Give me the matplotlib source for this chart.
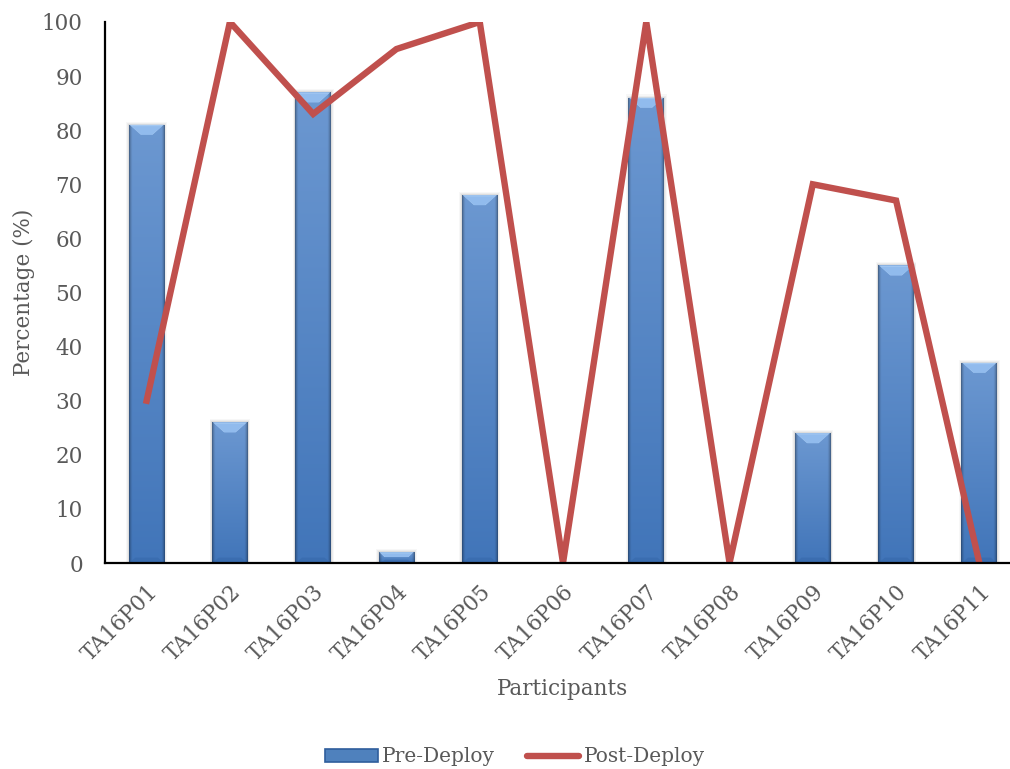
import numpy as np
import matplotlib
matplotlib.use("Agg")
import matplotlib.pyplot as plt
from matplotlib.colors import to_rgb
from matplotlib.patches import Patch, Polygon
from matplotlib.lines import Line2D

participants = ["TA16P01", "TA16P02", "TA16P03", "TA16P04", "TA16P05", "TA16P06",
                "TA16P07", "TA16P08", "TA16P09", "TA16P10", "TA16P11"]
pre_deploy = [81, 26, 87, 2, 68, 0, 86, 0, 24, 55, 37]
post_deploy = [30, 100, 83, 95, 100, 0, 100, 0, 70, 67, 0]
y_ticks = [0, 10, 20, 30, 40, 50, 60, 70, 80, 90, 100]

plt.rcParams["font.family"] = ["DejaVu Serif"]
text_grey = "#595959"
fs = 15.5

fig = plt.figure(figsize=(10.10, 7.69), dpi=100)
ax = fig.add_axes([105 / 1010, 1 - 563 / 769, (1021 - 105) / 1010, (563 - 22) / 769])

x = np.arange(len(participants))
bar_w = 0.43
bars = ax.bar(x, pre_deploy, width=bar_w, color="#4F81BD", zorder=2)

# bar body: lighter at the top, deeper at the base, darkened side edges
top_c = np.array(to_rgb("#6C98D1"))
bot_c = np.array(to_rgb("#4175B9"))
nv, nh = 200, 64
tv = np.linspace(0, 1, nv)[:, None, None]
u = np.linspace(0, 1, nh)
edge = np.minimum(u, 1 - u) / 0.09
edge_fac = 0.62 + 0.38 * np.clip(edge, 0, 1) ** 0.6
body = (top_c * (1 - tv) + bot_c * tv) * edge_fac[None, :, None]
body = np.clip(body, 0, 1)

for rect in bars:
    bx, bw, bh = rect.get_x(), rect.get_width(), rect.get_height()
    if bh <= 0:
        continue
    # soft shadow around the bar
    for k, a in enumerate([0.06, 0.045, 0.03]):
        off = 0.010 * (k + 1)
        ax.add_patch(plt.Rectangle((bx - off, 0), bw + 2 * off, bh + 0.2 * (k + 1),
                                   facecolor="black", alpha=a, edgecolor="none", zorder=1))
    im = ax.imshow(body, aspect="auto", extent=[bx, bx + bw, 0, bh],
                   zorder=3, interpolation="bilinear")
    im.set_clip_path(rect)
    # bevelled top face
    bev_h = min(1.85, bh * 0.45)
    bev_w = 0.145 * bev_h / 1.85
    ax.add_patch(Polygon([[bx + 0.01, bh], [bx + bw - 0.01, bh],
                          [bx + bw - bev_w, bh - bev_h], [bx + bev_w, bh - bev_h]],
                         closed=True, facecolor="#A3C8F2", edgecolor="none", zorder=4))
    ax.add_patch(Polygon([[bx + 0.03, bh - 0.25], [bx + bw - 0.03, bh - 0.25],
                          [bx + bw - bev_w - 0.01, bh - bev_h], [bx + bev_w + 0.01, bh - bev_h]],
                         closed=True, facecolor="#86B3EA", edgecolor="none", alpha=0.6,
                         zorder=4))
    # bevelled base
    base_h = min(1.0, bh * 0.3)
    ax.add_patch(Polygon([[bx, 0], [bx + bw, 0], [bx + bw - 0.08, base_h],
                          [bx + 0.08, base_h]], closed=True,
                         facecolor="#3566A8", alpha=0.5, edgecolor="none", zorder=4))

ax.plot(x, post_deploy, color="#C0504D", linewidth=4.6, solid_joinstyle="miter",
        zorder=5)

ax.set_xlim(-0.5, len(participants) - 0.5)
ax.set_ylim(0, 100)
ax.set_yticks(y_ticks)
ax.set_xticks(x)
ax.set_xticklabels(participants, rotation=45, ha="right", rotation_mode="anchor")
ax.tick_params(axis="both", length=0, labelsize=fs, colors=text_grey)
ax.tick_params(axis="y", pad=16)
ax.tick_params(axis="x", pad=13)
for s in ["top", "right"]:
    ax.spines[s].set_visible(False)
for s in ["left", "bottom"]:
    ax.spines[s].set_color("black")
    ax.spines[s].set_linewidth(1.6)
    ax.spines[s].set_zorder(6)

ax.set_xlabel("Participants", fontsize=fs, color=text_grey, labelpad=9)
ax.set_ylabel("Percentage (%)", fontsize=fs, color=text_grey, labelpad=5)

handles = [Patch(facecolor="#4F81BD", edgecolor="#2F5E9C", linewidth=1.2),
           Line2D([0], [0], color="#C0504D", linewidth=4.6, solid_capstyle="round")]
fig.legend(handles, ["Pre-Deploy", "Post-Deploy"], loc="center",
           bbox_to_anchor=(515 / 1010, 1 - 757 / 769), ncol=2, frameon=False,
           fontsize=14.5, labelcolor=text_grey, handlelength=2.6, handleheight=0.6,
           handletextpad=0.2, columnspacing=1.6)

fig.savefig("out.png", dpi=100)
